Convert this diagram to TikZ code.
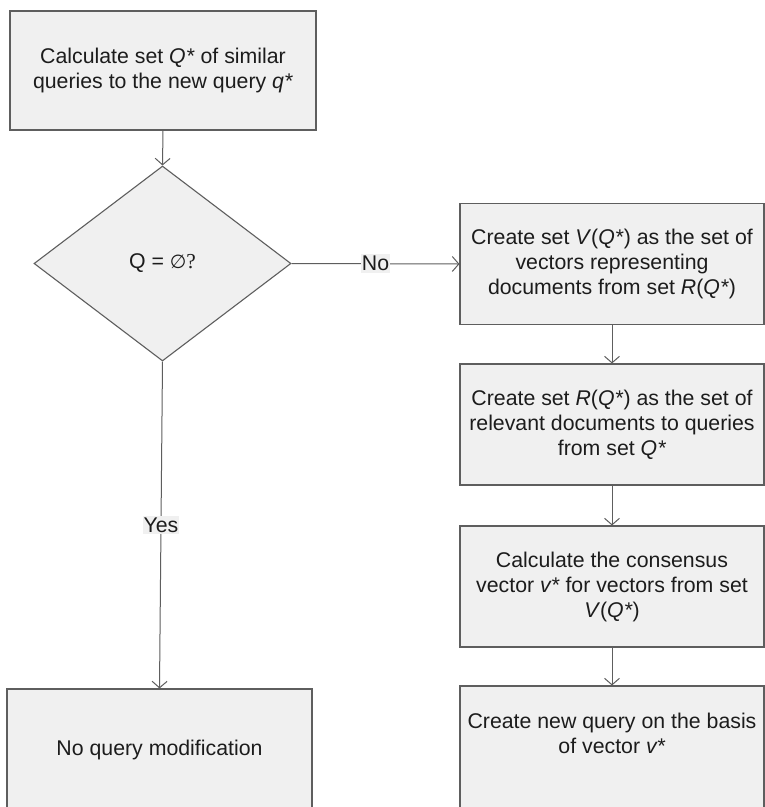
\documentclass[tikz,border=0pt]{standalone}
\usepackage{fontspec}
\setmainfont{Liberation Sans}
\newfontfamily\serifsym{Liberation Serif}
\newfontfamily\setsym{DejaVu Sans}
\usetikzlibrary{arrows.meta,shapes.geometric}
\definecolor{boxfill}{HTML}{F0F0F0}
\definecolor{edgegrey}{HTML}{5E5E5E}
\definecolor{inkgrey}{HTML}{1C1C1C}
\begin{document}
\begin{tikzpicture}[x=1pt,y=-1pt,
  txt/.style={font=\fontsize{21.3}{25}\selectfont, align=center, text=inkgrey, inner sep=0pt},
  box/.style={txt, draw=edgegrey, fill=boxfill, line width=1.1pt, minimum width=304pt, minimum height=121pt},
  decision/.style={txt, diamond, draw=edgegrey, fill=boxfill, line width=1.1pt, minimum width=257pt, minimum height=195pt, aspect=1.318},
  arr/.style={draw=edgegrey, line width=1pt, -{Straight Barb[length=6.5pt,width=15pt,line width=1pt]}},
  lab/.style={txt, fill=boxfill, inner xsep=1pt, inner ysep=2pt}
]
\clip (0,0) rectangle (765,807);
\fill[white] (0,0) rectangle (765,807);

% left column
\node[box, minimum width=306pt, minimum height=119pt] (calc) at (163,70.5)
  {Calculate set \textit{Q*} of similar\\queries to the new query \textit{q*}};
\node[decision] (empty) at (162.5,263.5)
  {Q = {\setsym\fontsize{19}{22}\selectfont ∅}{\serifsym ?}};
\node[box, minimum width=305pt, minimum height=130pt] (nomodbox) at (159.5,754) {};
\node[txt] (nomod) at (159.5,750) {No query modification};

% right column
\node[box] (vset) at (612,264)
  {Create set \textit{V}(\textit{Q*}) as the set of\\vectors representing\\documents from set \textit{R}(\textit{Q*})};
\node[box] (rset) at (612,424.5)
  {Create set \textit{R}(\textit{Q*}) as the set of\\relevant documents to queries\\from set \textit{Q*}};
\node[box] (cons) at (612,586.5)
  {Calculate the consensus\\vector \textit{v*} for vectors from set\\\textit{V}(\textit{Q*})};
\node[box, minimum height=130pt] (newq) at (612,751) {};
\node[txt] (newqtxt) at (612,733) {Create new query on the basis\\of vector \textit{v*}};

% connectors
\draw[arr] (calc.south) -- (empty.north);
\draw[arr] (empty.east) -- node[lab] (nolab) {No} (vset.west);
\draw[arr] (empty.south) -- node[lab] (yeslab) {Yes} (nomodbox.north);
\draw[arr] (vset.south) -- (rset.north);
\draw[arr] (rset.south) -- (cons.north);
\draw[arr] (cons.south) -- (newq.north);
\end{tikzpicture}
\end{document}
